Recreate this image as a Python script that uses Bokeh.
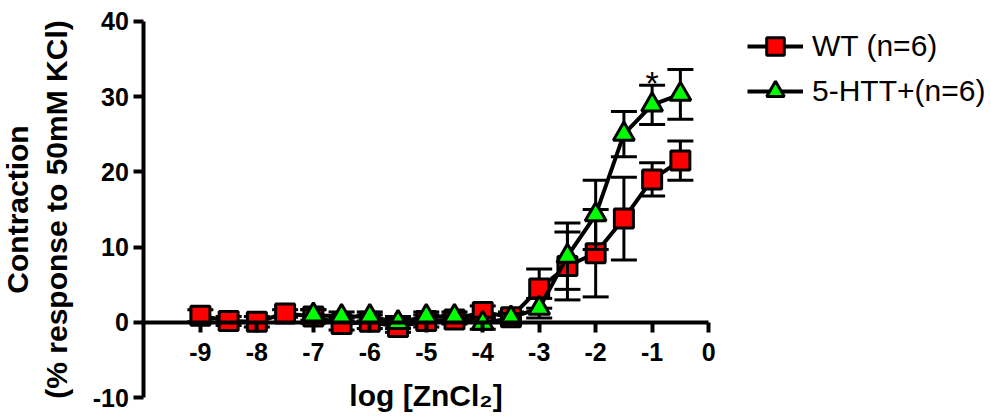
from bokeh.plotting import figure
from bokeh.models import FixedTicker, Legend, LegendItem, ColumnDataSource
from bokeh.core.properties import value
from bokeh.embed import file_html
from bokeh.resources import INLINE

# Concentration-response data: log molar ZnCl2 vs contraction (% of 50 mM KCl), mean and SEM
wt_logc = [-9.0, -8.5, -8.0, -7.5, -7.0, -6.5, -6.0, -5.5, -5.0, -4.5,
           -4.0, -3.5, -3.0, -2.5, -2.0, -1.5, -1.0, -0.5]
wt_mean = [0.9, 0.2, 0.1, 1.2, 0.8, -0.2, 0.1, -0.6, 0.2, 0.4,
           1.4, 0.7, 4.5, 7.5, 9.2, 13.8, 19.0, 21.5]
wt_sem = [0.8, 0.6, 0.7, 0.5, 0.9, 0.8, 0.9, 0.7, 0.8, 0.6,
          0.8, 0.7, 2.6, 4.5, 5.8, 5.5, 2.2, 2.6]

htt_logc = [-7.0, -6.5, -6.0, -5.5, -5.0, -4.5, -4.0, -3.5,
            -3.0, -2.5, -2.0, -1.5, -1.0, -0.5]
htt_mean = [1.0, 0.8, 0.8, 0.0, 0.8, 0.8, -0.1, 0.6,
            1.9, 8.8, 14.3, 25.0, 28.9, 30.3]
htt_sem = [0.7, 0.6, 0.6, 0.8, 0.6, 0.6, 0.8, 0.6,
           1.3, 4.4, 4.6, 3.0, 2.6, 3.3]

x_ticks = [-9, -8, -7, -6, -5, -4, -3, -2, -1, 0]
x_tick_labels = ["-9", "-8", "-7", "-6", "-5", "-4", "-3", "-2", "-1", "0"]
y_ticks = [-10, 0, 10, 20, 30, 40]
y_tick_labels = ["-10", "0", "10", "20", "30", "40"]
signif_logc = [-1.0]   # points marked with *

wt_label = "WT (n=6)"
htt_label = "5-HTT+(n=6)"

FONT = "Liberation Sans"

# axis extents; the visible ranges leave room for labels and the legend
X_AXIS = (-10, 0)
Y_AXIS = (-10, 40)
X_VIEW = (-12.54, 5.01)
Y_VIEW = (-12.48, 42.75)


def make_source(xs, means, sems):
    return ColumnDataSource(dict(
        x=xs, y=means,
        lo=[m - s for m, s in zip(means, sems)],
        hi=[m + s for m, s in zip(means, sems)],
    ))


wt_src = make_source(wt_logc, wt_mean, wt_sem)
htt_src = make_source(htt_logc, htt_mean, htt_sem)

p = figure(width=991, height=416, x_range=X_VIEW, y_range=Y_VIEW,
           output_backend="svg", toolbar_location=None,
           min_border_left=0, min_border_right=0,
           min_border_top=0, min_border_bottom=0)
p.grid.visible = False
p.outline_line_color = None
p.background_fill_color = "white"
p.border_fill_color = "white"

# x axis crosses at y = 0, y axis at x = -10
xa = p.xaxis[0]
xa.fixed_location = 0
xa.bounds = X_AXIS
xa.ticker = FixedTicker(ticks=x_ticks)
xa.major_label_overrides = dict(zip(x_ticks, x_tick_labels))
ya = p.yaxis[0]
ya.fixed_location = X_AXIS[0]
ya.bounds = Y_AXIS
ya.ticker = FixedTicker(ticks=y_ticks)
ya.major_label_overrides = dict(zip(y_ticks, y_tick_labels))

for ax in (xa, ya):
    ax.axis_line_width = 4
    ax.axis_line_color = "black"
    ax.major_tick_line_width = 4
    ax.major_tick_line_color = "black"
    ax.major_tick_in = 0
    ax.major_tick_out = 10
    ax.minor_tick_line_color = None
    ax.major_label_text_font = FONT
    ax.major_label_text_font_style = "bold"
    ax.major_label_text_font_size = "25px"
    ax.major_label_text_color = "black"
    ax.axis_label_text_font = FONT
    ax.axis_label_text_font_style = "bold"
    ax.axis_label_text_font_size = "30px"
    ax.axis_label_text_color = "black"

xa.major_label_standoff = 11
xa.axis_label = "log [ZnCl\u2082]"
xa.axis_label_standoff = 14
ya.major_label_standoff = 5
ya.axis_label = "Contraction\n(% response to 50mM KCl)"
ya.axis_label_standoff = 16


def draw_series(src, color, marker, size):
    p.segment(x0="x", y0="lo", x1="x", y1="hi", source=src,
              line_color="black", line_width=3)
    p.scatter(x="x", y="hi", source=src, marker="dash", size=26,
              line_color="black", line_width=3)
    p.scatter(x="x", y="lo", source=src, marker="dash", size=26,
              line_color="black", line_width=3)
    ln = p.line(x="x", y="y", source=src, line_color="black", line_width=4)
    pts = p.scatter(x="x", y="y", source=src, marker=marker, size=size,
                    fill_color=color, line_color="black", line_width=3)
    return ln, pts


wt_line, wt_pts = draw_series(wt_src, "#ff0000", "square", 19)
htt_line, htt_pts = draw_series(htt_src, "#00ff00", "triangle", 21)

# significance marker above the upper error bar
sig_y = [htt_mean[htt_logc.index(x)] + htt_sem[htt_logc.index(x)] for x in signif_logc]
p.text(x=signif_logc, y=sig_y, text=["*"] * len(signif_logc),
       text_align="center", text_baseline="alphabetic",
       text_font=value(FONT), text_font_size="34px", text_color="black",
       y_offset=-2)

legend = Legend(items=[LegendItem(label=wt_label, renderers=[wt_line, wt_pts]),
                       LegendItem(label=htt_label, renderers=[htt_line, htt_pts])],
                location=(747, 303), orientation="vertical",
                glyph_width=56, glyph_height=44, label_standoff=9, spacing=1,
                padding=0, margin=0, border_line_color=None,
                background_fill_alpha=0,
                label_text_font=FONT, label_text_font_size="30px",
                label_text_color="black")
p.add_layout(legend, "center")

open("out.html", "w").write(file_html(p, INLINE))
